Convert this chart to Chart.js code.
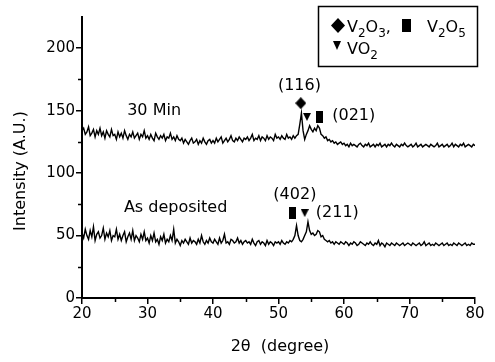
<!DOCTYPE html>
<html>
<head>
<meta charset="utf-8">
<script src="https://cdn.jsdelivr.net/npm/chart.js@4.4.1/dist/chart.umd.min.js"></script>
<style>
  html, body { margin: 0; padding: 0; background: #fff; }
  #wrap { width: 495px; height: 362px; }
</style>
</head>
<body>
<div id="wrap"><canvas id="xrd" width="495" height="362"></canvas></div>
<script>
// ============================================================
// DATA — 2θ scan from 20° to 80°, one reading every 0.25°
// ============================================================

const ANGLE_START = 20;
const ANGLE_STEP = 0.25;

const min30 = [
  134,136,131,133,137,130,132,135,129,134,131,136,130,133,128,134,131,129,135,130,
  131,127,133,129,132,128,134,130,127,131,129,133,128,130,132,127,131,129,134,128,
  130,127,131,128,126,132,129,127,130,128,131,126,129,128,132,127,129,126,130,127,
  126,128,124,127,125,123,126,128,124,125,127,123,126,124,128,125,123,126,127,124,
  126,124,128,125,127,129,124,126,128,125,127,130,126,125,128,126,129,127,125,128,
  127,129,126,128,131,126,128,127,130,126,129,128,126,130,127,129,128,126,131,128,
  129,127,130,128,127,131,128,129,127,130,128,130,131,139,148,134,127,131,134,138,
  135,133,136,134,138,136,131,130,128,129,126,127,125,126,124,125,123,124,125,123,
  124,122,123,121,124,122,123,122,121,123,124,122,121,123,122,124,121,122,123,121,
  123,122,124,121,122,123,121,123,122,124,122,121,123,122,121,123,122,124,122,121,
  122,123,121,122,124,121,122,123,121,122,123,122,121,123,122,121,122,124,121,122,
  123,121,122,123,121,122,124,121,123,122,121,123,122,124,121,122,123,122,121,123,
  122
];

const asDeposited = [
  52,48,55,50,47,54,49,57,46,51,53,48,50,56,47,52,49,54,46,50,
  49,55,47,51,46,50,53,45,49,52,47,54,46,50,48,45,51,47,53,46,
  48,44,50,46,52,45,47,43,49,46,51,44,47,45,50,46,55,44,47,45,
  42,46,44,47,45,43,48,44,46,45,43,47,44,50,45,43,46,44,48,45,
  44,47,45,43,48,44,46,51,44,45,43,47,46,44,45,48,44,46,43,45,
  46,44,45,43,47,44,42,45,46,43,45,44,42,46,43,45,44,42,45,44,
  45,43,46,44,43,45,44,46,45,47,50,58,50,46,45,47,50,53,61,54,
  51,52,50,51,54,53,49,50,47,46,45,46,44,45,43,45,44,43,45,44,
  43,45,44,42,44,43,45,44,42,43,45,44,43,42,44,43,45,43,42,44,
  43,46,42,44,43,41,44,43,42,44,43,42,44,43,42,43,44,42,43,44,
  43,42,44,43,42,43,44,42,43,45,42,43,44,42,43,42,44,43,42,43,
  44,42,43,44,42,43,42,44,43,42,44,43,42,43,44,42,43,42,44,43,
  43
];

const xTicks = [20, 30, 40, 50, 60, 70, 80];
const xMinorTicks = [25, 35, 45, 55, 65, 75];
const yTicks = [0, 50, 100, 150, 200];
const yMinorTicks = [25, 75, 125, 175];

// phase markers above peaks: [2θ, intensity, phase]
const peakMarks = [
  [53.4, 156, 'V2O3'],
  [54.35, 145, 'VO2'],
  [56.2, 145, 'V2O5'],
  [52.1, 68, 'V2O5'],
  [54.0, 68, 'VO2']
];

// [text, 2θ, intensity, align]
const peakLabels = [
  ['(116)', 53.2, 170, 'center'],
  ['(021)', 58.2, 145.5, 'left'],
  ['(402)', 52.5, 82.5, 'center'],
  ['(211)', 55.7, 68, 'left']
];

const seriesLabels = [
  ['30 Min', 26.9, 150],
  ['As deposited', 26.4, 72]
];

// ============================================================
// HELPERS
// ============================================================

const FONT = '"DejaVu Sans", sans-serif';

function toPoints(values) {
  return values.map((v, i) => ({ x: ANGLE_START + i * ANGLE_STEP, y: v }));
}

function markCanvas(phase, w, h) {
  const c = document.createElement('canvas');
  c.width = w;
  c.height = h;
  const g = c.getContext('2d');
  g.fillStyle = '#000';
  g.beginPath();
  if (phase === 'V2O3') {
    g.moveTo(w / 2, 0); g.lineTo(w, h / 2); g.lineTo(w / 2, h); g.lineTo(0, h / 2);
  } else if (phase === 'VO2') {
    g.moveTo(0, 0); g.lineTo(w, 0); g.lineTo(w / 2, h);
  } else {
    g.rect(0, 0, w, h);
  }
  g.closePath();
  g.fill();
  return c;
}

const plotMarks = {
  V2O3: markCanvas('V2O3', 11, 12),
  VO2: markCanvas('VO2', 8, 8),
  V2O5: markCanvas('V2O5', 7, 12)
};
const legendMarks = {
  V2O3: markCanvas('V2O3', 14, 15),
  VO2: markCanvas('VO2', 8, 9),
  V2O5: markCanvas('V2O5', 9, 13)
};

// draws a formula like V2O3 with lowered digits
function drawFormula(ctx, parts, x, y) {
  parts.forEach(([txt, sub]) => {
    ctx.font = sub ? `12px ${FONT}` : `16px ${FONT}`;
    ctx.fillText(txt, x, sub ? y + 5 : y);
    x += ctx.measureText(txt).width;
  });
  return x;
}

// ============================================================
// PLUGIN — minor ticks, titles, annotations, legend box
// ============================================================

const decorPlugin = {
  id: 'decor',
  afterDraw(chart) {
    const { ctx, scales: { x, y }, chartArea } = chart;
    ctx.save();
    ctx.strokeStyle = '#000';
    ctx.fillStyle = '#000';
    ctx.lineWidth = 1.5;

    // minor ticks
    ctx.beginPath();
    yMinorTicks.forEach(v => {
      const py = Math.round(y.getPixelForValue(v)) + 0.5;
      ctx.moveTo(chartArea.left - 4, py);
      ctx.lineTo(chartArea.left, py);
    });
    xMinorTicks.forEach(v => {
      const px = Math.round(x.getPixelForValue(v)) + 0.5;
      ctx.moveTo(px, chartArea.bottom);
      ctx.lineTo(px, chartArea.bottom + 4);
    });
    ctx.stroke();

    // axis titles
    ctx.font = `16px ${FONT}`;
    ctx.textAlign = 'center';
    ctx.textBaseline = 'middle';
    ctx.fillText('2\u03B8  (degree)', 280, 347);
    ctx.save();
    ctx.translate(21, 171);
    ctx.rotate(-Math.PI / 2);
    ctx.fillText('Intensity (A.U.)', 0, 0);
    ctx.restore();

    // series and peak labels
    seriesLabels.forEach(([txt, a, v]) => {
      ctx.textAlign = 'left';
      ctx.fillText(txt, x.getPixelForValue(a), y.getPixelForValue(v));
    });
    peakLabels.forEach(([txt, a, v, align]) => {
      ctx.textAlign = align;
      ctx.fillText(txt, x.getPixelForValue(a), y.getPixelForValue(v));
    });

    // legend box
    ctx.lineWidth = 1.5;
    ctx.strokeRect(318.5, 6.5, 159, 60);
    ctx.textAlign = 'left';
    ctx.textBaseline = 'alphabetic';
    const m = legendMarks;
    ctx.drawImage(m.V2O3, 331, 18);
    drawFormula(ctx, [['V', 0], ['2', 1], ['O', 0], ['3', 1], [',', 0]], 347, 32);
    ctx.drawImage(m.V2O5, 402, 19);
    drawFormula(ctx, [['V', 0], ['2', 1], ['O', 0], ['5', 1]], 427, 32);
    ctx.drawImage(m.VO2, 333, 41);
    drawFormula(ctx, [['VO', 0], ['2', 1]], 347, 54);

    ctx.restore();
  }
};

// ============================================================
// CHART
// ============================================================

new Chart(document.getElementById('xrd'), {
  type: 'line',
  data: {
    datasets: [
      {
        label: '30 Min',
        data: toPoints(min30),
        borderColor: '#000',
        borderWidth: 1.4,
        pointRadius: 0,
        tension: 0
      },
      {
        label: 'As deposited',
        data: toPoints(asDeposited),
        borderColor: '#000',
        borderWidth: 1.4,
        pointRadius: 0,
        tension: 0
      },
      {
        type: 'scatter',
        label: 'phases',
        data: peakMarks.map(([a, v]) => ({ x: a, y: v })),
        pointStyle: peakMarks.map(p => plotMarks[p[2]]),
        pointRadius: 6,
        clip: false
      }
    ]
  },
  options: {
    responsive: false,
    animation: false,
    devicePixelRatio: 1,
    layout: { padding: { top: 17, right: 20, left: 0, bottom: 0 } },
    plugins: { legend: { display: false }, tooltip: { enabled: false } },
    scales: {
      x: {
        type: 'linear',
        min: 20,
        max: 80,
        afterBuildTicks: s => { s.ticks = xTicks.map(v => ({ value: v })); },
        afterFit: s => { s.height = 64; },
        grid: { display: true, drawOnChartArea: false, drawTicks: true, tickLength: 6, color: '#000', lineWidth: 1.5 },
        border: { display: true, color: '#000', width: 2 },
        ticks: { color: '#000', font: { family: FONT, size: 15 }, padding: 1, autoSkip: false, maxRotation: 0 }
      },
      y: {
        type: 'linear',
        min: 0,
        max: 225,
        afterBuildTicks: s => { s.ticks = yTicks.map(v => ({ value: v })); },
        afterFit: s => { s.width = 82; },
        grid: { display: true, drawOnChartArea: false, drawTicks: true, tickLength: 6, color: '#000', lineWidth: 1.5 },
        border: { display: true, color: '#000', width: 2 },
        ticks: { color: '#000', font: { family: FONT, size: 15 }, padding: 1 }
      }
    }
  },
  plugins: [decorPlugin]
});
</script>
</body>
</html>
